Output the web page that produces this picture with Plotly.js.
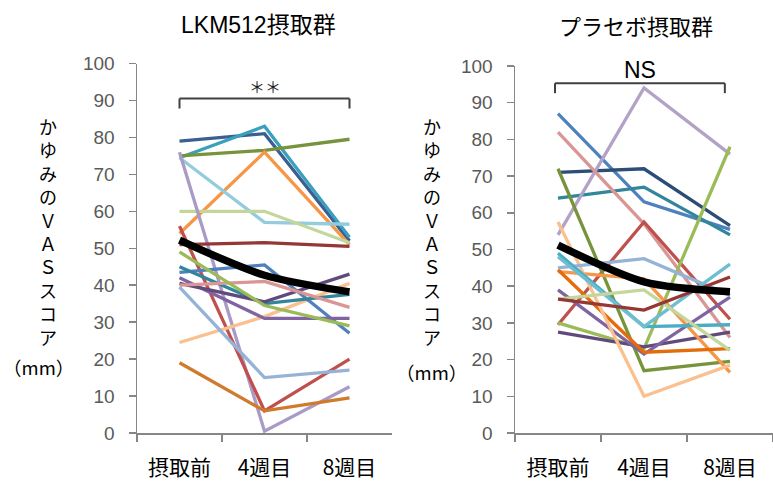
<!DOCTYPE html>
<html>
<head>
<meta charset="utf-8">
<script src="https://cdn.plot.ly/plotly-3.0.1.min.js"></script>
<style>html,body{margin:0;padding:0;background:#fff;}#chart{width:773px;height:486px;}</style>
</head>
<body>
<div id="chart"></div>
<script>
// ---- data ----
const categories = ["摂取前", "4週目", "8週目"];
const yTickVals = [0, 10, 20, 30, 40, 50, 60, 70, 80, 90, 100];

// LKM512 group: each subject [摂取前, 4週目, 8週目]
const lkmSubjects = [
  [79, 81, 52],
  [74.5, 83, 53],
  [75, 76.5, 79.5],
  [54, 76, 51],
  [74.5, 57, 56.5],
  [60, 60, 51.5],
  [76, 0.5, 12.5],
  [51, 51.5, 50.5],
  [56, 6, 20],
  [19, 6, 9.5],
  [24.5, 31.5, 40.5],
  [39.5, 15, 17],
  [43.5, 45.5, 27],
  [45, 35, 37.5],
  [42, 31, 31],
  [40.5, 35.5, 43],
  [40, 41, 34],
  [49, 34.5, 29]
];
const lkmMean = [52.2, 42.7, 38.2];

// Placebo group
const placeboSubjects = [
  [87, 63, 55.5],
  [71, 72, 56.5],
  [64, 67, 54],
  [54, 94, 76],
  [82, 57, 26],
  [29.5, 57.5, 31],
  [72, 17, 19.5],
  [30, 23, 78],
  [27.5, 23.5, 27.5],
  [39, 21.5, 37],
  [44, 42, 16.5],
  [44.5, 22, 23],
  [57.5, 10, 18.5],
  [45, 47.5, 37.5],
  [49, 29, 29.5],
  [48, 29, 46],
  [36.5, 39, 22.5],
  [36.5, 33.5, 42.5]
];
const placeboMean = [51.2, 41.2, 38.5];

// ---- styles ----
const lkmColors = ["#3A5F91", "#3BA0BD", "#77933C", "#F79646", "#93CDDD", "#C3D69B",
  "#A99BC6", "#953735", "#C0504D", "#D07A2E", "#FAC090", "#95B3D7",
  "#4F81BD", "#31859C", "#8064A2", "#604A7B", "#D99694", "#9BBB59"];
const placeboColors = ["#4F81BD", "#2C4D75", "#31859C", "#B3A2C7", "#D99694", "#C0504D",
  "#77933C", "#9BBB59", "#604A7B", "#8064A2", "#F79646", "#E46C0A",
  "#FAC090", "#95B3D7", "#4BACC6", "#6FBDD1", "#C3D69B", "#953735"];

const traces = [];
lkmSubjects.forEach((v, i) => traces.push({
  x: categories, y: v, xaxis: "x", yaxis: "y", type: "scatter", mode: "lines",
  line: {color: lkmColors[i], width: 3.3}, hoverinfo: "skip"
}));
traces.push({x: categories, y: lkmMean, xaxis: "x", yaxis: "y", type: "scatter", mode: "lines",
  line: {color: "#000", width: 7.5, shape: "spline", smoothing: 0.8}, hoverinfo: "skip"});
placeboSubjects.forEach((v, i) => traces.push({
  x: categories, y: v, xaxis: "x2", yaxis: "y2", type: "scatter", mode: "lines",
  line: {color: placeboColors[i], width: 3.3}, hoverinfo: "skip"
}));
traces.push({x: categories, y: placeboMean, xaxis: "x2", yaxis: "y2", type: "scatter", mode: "lines",
  line: {color: "#000", width: 7.5, shape: "spline", smoothing: 0.8}, hoverinfo: "skip"});

const W = 773, H = 486;
const axisGray = "#868686";
const cjk = "Noto Sans CJK JP";
const lat = "Liberation Sans, Arial, Noto Sans CJK JP";

function xAxis(d0, d1, anchor) {
  return {
    domain: [d0 / W, d1 / W], anchor: anchor, type: "category",
    categoryorder: "array", categoryarray: categories, range: [-0.5, 2.5],
    tickson: "boundaries", ticks: "outside", ticklen: 7, tickwidth: 1.5, tickcolor: axisGray,
    showline: true, linecolor: axisGray, linewidth: 1.5, showgrid: false, zeroline: false,
    tickfont: {family: cjk, size: 21, color: "#000"}, ticklabelstandoff: 15
  };
}
function yAxis(topPx, anchor) {
  return {
    domain: [(H - 433) / H, (H - topPx) / H], anchor: anchor, range: [0, 100],
    tickvals: yTickVals, ticks: "outside", ticklen: 7, tickwidth: 1.5, tickcolor: axisGray,
    showline: true, linecolor: axisGray, linewidth: 1.5, showgrid: false, zeroline: false,
    tickfont: {family: lat, size: 19, color: "#595959"}, ticklabelstandoff: 10
  };
}

const vertText = "か<br>ゆ<br>み<br>の<br>Ｖ<br>Ａ<br>Ｓ<br>ス<br>コ<br>ア";
function ann(text, x, y, font, extra) {
  return Object.assign({text: text, xref: "paper", yref: "paper", x: x / W, y: 1 - y / H,
    xanchor: "center", yanchor: "middle", showarrow: false, font: font}, extra || {});
}
const annotations = [
  ann("LKM512摂取群", 258, 25, {family: lat, size: 23, color: "#000"}),
  ann("プラセボ摂取群", 636, 25, {family: cjk, size: 22, color: "#000"}),
  ann(vertText, 48, 111, {family: cjk, size: 18, color: "#000"}, {yanchor: "top"}),
  ann("（mm）", 38, 367, {family: cjk, size: 18.5, color: "#000"}),
  ann(vertText, 432, 111, {family: cjk, size: 18, color: "#000"}, {yanchor: "top"}),
  ann("（mm）", 431, 372, {family: cjk, size: 18.5, color: "#000"}),
  {text: "＊＊", xref: "x", yref: "y", x: 1, y: 94, showarrow: false,
   font: {family: cjk, size: 16, color: "#222"}},
  {text: "NS", xref: "x2", yref: "y2", x: 0.95, y: 99, showarrow: false,
   font: {family: lat, size: 23, color: "#000"}}
];

const bc = {color: "#404040", width: 2};
const shapes = [
  {type: "line", xref: "x", yref: "y", x0: 0, x1: 2, y0: 90.5, y1: 90.5, line: bc},
  {type: "line", xref: "x", yref: "y", x0: 0, x1: 0, y0: 87.8, y1: 90.5, line: bc},
  {type: "line", xref: "x", yref: "y", x0: 2, x1: 2, y0: 87.8, y1: 90.5, line: bc},
  {type: "line", xref: "x2", yref: "y2", x0: -0.035, x1: 1.94, y0: 95.3, y1: 95.3, line: bc},
  {type: "line", xref: "x2", yref: "y2", x0: -0.035, x1: -0.035, y0: 92.6, y1: 95.3, line: bc},
  {type: "line", xref: "x2", yref: "y2", x0: 1.94, x1: 1.94, y0: 92.6, y1: 95.3, line: bc}
];

const layout = {
  width: W, height: H, margin: {l: 0, r: 0, t: 0, b: 0},
  paper_bgcolor: "#fff", plot_bgcolor: "#fff", showlegend: false,
  xaxis: xAxis(137, 392, "y"), yaxis: yAxis(63.5, "x"),
  xaxis2: xAxis(515, 773, "y2"), yaxis2: yAxis(66, "x2"),
  annotations: annotations, shapes: shapes
};

Plotly.newPlot("chart", traces, layout, {displayModeBar: false, staticPlot: true});
</script>
</body>
</html>
